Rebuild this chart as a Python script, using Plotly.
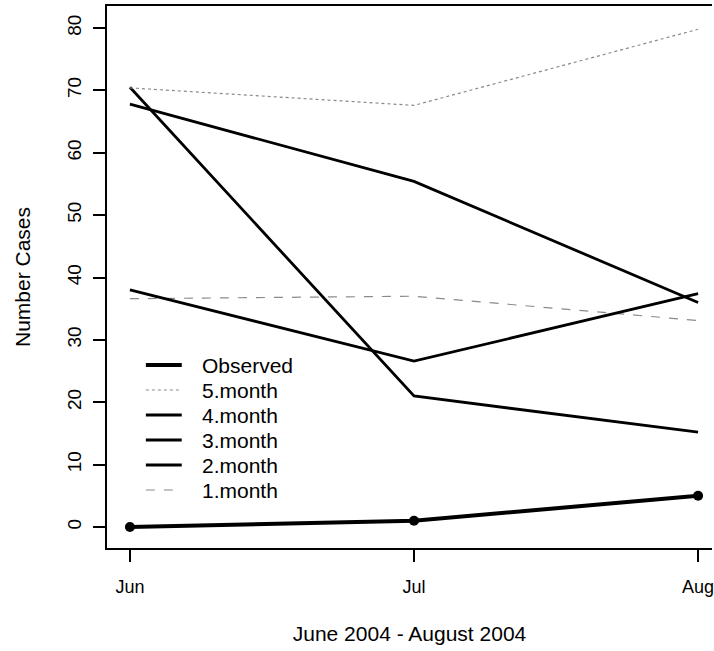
import plotly.graph_objects as go

# Monthly case counts, June - August 2004
months = ["Jun", "Jul", "Aug"]
month_pos = [0, 1, 2]

observed = [0, 1, 5]
pred_5month = [70.4, 67.6, 79.8]
pred_4month = [70.5, 21.0, 15.2]
pred_3month = [67.8, 55.4, 36.0]
pred_2month = [38.0, 26.6, 37.4]
pred_1month = [36.6, 37.0, 33.1]

series_names = ["Observed", "5.month", "4.month", "3.month", "2.month", "1.month"]
series_values = [observed, pred_5month, pred_4month, pred_3month, pred_2month, pred_1month]
series_styles = [
    dict(color="black", width=4, dash="solid"),
    dict(color="#8a8a8a", width=1.2, dash="dot"),
    dict(color="black", width=2.8, dash="solid"),
    dict(color="black", width=2.8, dash="solid"),
    dict(color="black", width=2.8, dash="solid"),
    dict(color="#8a8a8a", width=1.2, dash="dash"),
]

y_ticks = [0, 10, 20, 30, 40, 50, 60, 70, 80]

FONT = "Liberation Sans, Arial, sans-serif"

fig = go.Figure()

# Draw forecasts first, observed on top
for name, vals, style in list(zip(series_names, series_values, series_styles))[::-1]:
    is_obs = name == "Observed"
    fig.add_trace(go.Scatter(
        x=month_pos, y=vals, name=name,
        mode="lines+markers" if is_obs else "lines",
        line=style,
        marker=dict(size=10, color="black") if is_obs else None,
        showlegend=False,
    ))

# Legend block drawn on an overlay axis: x in pixels from the plot's left edge,
# y in legend row units
for i, (name, style) in enumerate(zip(series_names, series_styles)):
    fig.add_trace(go.Scatter(
        x=[39, 75], y=[i, i], mode="lines", line=style,
        xaxis="x2", yaxis="y2", showlegend=False, hoverinfo="skip",
    ))
    fig.add_annotation(
        x=93, y=i, xref="x2", yref="y2", text=name, showarrow=False,
        xanchor="left", yanchor="middle",
        font=dict(family=FONT, size=21, color="black"),
    )

fig.update_layout(
    width=714, height=651,
    margin=dict(l=107, r=0, t=6, b=103),
    paper_bgcolor="white", plot_bgcolor="white",
    font=dict(family=FONT, color="black"),
    showlegend=False,
    xaxis=dict(
        range=[-0.0807, 2.049],
        tickvals=month_pos, ticktext=months,
        showgrid=False, zeroline=False,
        showline=True, linecolor="black", linewidth=1.5, mirror=True,
        ticks="outside", ticklen=12, tickwidth=1.5, tickcolor="black",
        ticklabelstandoff=10,
        ticklabeloverflow="allow",
        tickfont=dict(family=FONT, size=18, color="black"),
        title=dict(text="June 2004 - August 2004", standoff=30,
                   font=dict(family=FONT, size=21, color="black")),
    ),
    yaxis=dict(
        range=[-3.37, 83.53],
        tickvals=y_ticks,
        tickangle=-90,
        showgrid=False, zeroline=False,
        showline=True, linecolor="black", linewidth=1.5,
        ticks="outside", ticklen=12, tickwidth=1.5, tickcolor="black",
        ticklabelstandoff=5,
        tickfont=dict(family=FONT, size=19, color="black"),
        title=dict(text="Number Cases", standoff=27,
                   font=dict(family=FONT, size=21, color="black")),
    ),
    xaxis2=dict(overlaying="x", range=[0, 607], visible=False, domain=[0, 1]),
    yaxis2=dict(overlaying="y", range=[7.32, -14.36], visible=False),
)

fig.write_html("out.html")
